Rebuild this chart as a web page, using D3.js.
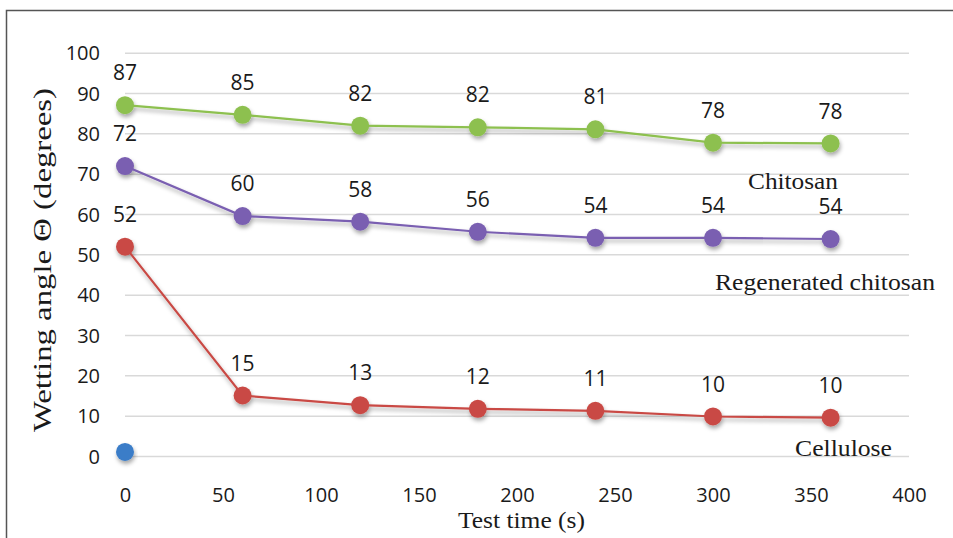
<!DOCTYPE html>
<html>
<head>
<meta charset="utf-8">
<script src="https://cdn.jsdelivr.net/npm/d3@7/dist/d3.min.js"></script>
<style>
  html, body { margin: 0; padding: 0; background: #fff; }
  svg { display: block; }
</style>
</head>
<body>
<svg id="chart" width="953" height="538"></svg>
<script>
// ---- data ----
const times = [0, 60, 120, 180, 240, 300, 360];
const chitosan = [87.0, 84.6, 81.9, 81.5, 81.0, 77.7, 77.5];
const chitosanLabels = [87, 85, 82, 82, 81, 78, 78];
const regenerated = [71.9, 59.5, 58.1, 55.6, 54.1, 54.1, 53.8];
const regeneratedLabels = [72, 60, 58, 56, 54, 54, 54];
const cellulose = [51.9, 15.0, 12.6, 11.7, 11.2, 9.8, 9.5];
const celluloseLabels = [52, 15, 13, 12, 11, 10, 10];
const blankPoint = [{t: 0, v: 1}];
const xTicks = [0, 50, 100, 150, 200, 250, 300, 350, 400];
const yTicks = [0, 10, 20, 30, 40, 50, 60, 70, 80, 90, 100];
const seriesNames = ["Chitosan", "Regenerated chitosan", "Cellulose"];

const svg = d3.select("#chart");
const x = d3.scaleLinear().domain([0, 400]).range([125, 909]);
const y = d3.scaleLinear().domain([0, 100]).range([456, 52.7]);

// drop shadow filter
const defs = svg.append("defs");
const f = defs.append("filter").attr("id", "shadow")
  .attr("x", "-20%").attr("y", "-20%").attr("width", "140%").attr("height", "160%");
f.append("feDropShadow").attr("dx", 1).attr("dy", 3).attr("stdDeviation", 2)
  .attr("flood-color", "#000").attr("flood-opacity", 0.35);

// outer frame
svg.append("rect").attr("x", 6.5).attr("y", 10.5).attr("width", 1000).attr("height", 600)
  .attr("fill", "none").attr("stroke", "#555").attr("stroke-width", 1.5);

// gridlines + y tick labels
const yAxis = d3.axisLeft(y).tickValues(yTicks).tickSize(-(909 - 125)).tickPadding(25);
const gy = svg.append("g").attr("transform", "translate(125,0)").call(yAxis);
gy.select(".domain").remove();
gy.selectAll(".tick line").attr("stroke", "#d9d9d9").attr("stroke-width", 1.5);
gy.selectAll(".tick text").attr("font-family", "'Open Sans', sans-serif").attr("font-size", 20)
  .attr("fill", "#1a1a1a").attr("x", -25).attr("dy", "0.35em");

const xAxis = d3.axisBottom(x).tickValues(xTicks).tickSize(0).tickPadding(0);
const gx = svg.append("g").attr("transform", "translate(0,495)").call(xAxis);
gx.select(".domain").remove();
gx.selectAll(".tick text").attr("font-family", "'Open Sans', sans-serif").attr("font-size", 20)
  .attr("fill", "#1a1a1a").attr("y", 0).attr("dy", "0.35em");

// series
const series = [
  {name: "Chitosan", values: chitosan, labels: chitosanLabels, color: "#8dc04f"},
  {name: "Regenerated chitosan", values: regenerated, labels: regeneratedLabels, color: "#7a5fb1"},
  {name: "Cellulose", values: cellulose, labels: celluloseLabels, color: "#c94a44"}
];

const line = d3.line().x(d => x(d.t)).y(d => y(d.v));

series.forEach(s => {
  const pts = times.map((t, i) => ({t, v: s.values[i], lab: s.labels[i]}));
  const g = svg.append("g").attr("filter", "url(#shadow)");
  g.append("path").datum(pts).attr("d", line).attr("fill", "none")
    .attr("stroke", s.color).attr("stroke-width", 2.2);
  g.selectAll("circle").data(pts).join("circle")
    .attr("cx", d => x(d.t)).attr("cy", d => y(d.v)).attr("r", 9)
    .attr("fill", s.color);
  svg.append("g").selectAll("text").data(pts).join("text")
    .attr("x", d => x(d.t)).attr("y", d => y(d.v) - 32.5)
    .attr("dy", "0.36em").attr("text-anchor", "middle")
    .attr("font-family", "'Open Sans', sans-serif").attr("font-size", 21).attr("fill", "#1a1a1a")
    .text(d => d.lab);
});

// blue point
svg.append("g").attr("filter", "url(#shadow)").selectAll("circle").data(blankPoint).join("circle")
  .attr("cx", d => x(d.t)).attr("cy", d => y(d.v)).attr("r", 9).attr("fill", "#3b7dc8");

// series name labels
const nameLabels = [
  {text: seriesNames[0], x: 748, y: 189, w: 90},
  {text: seriesNames[1], x: 715, y: 290, w: 220},
  {text: seriesNames[2], x: 795, y: 456, w: 97}
];
svg.append("g").selectAll("text").data(nameLabels).join("text")
  .attr("x", d => d.x).attr("y", d => d.y)
  .attr("font-family", "'Liberation Serif', 'Times New Roman', serif").attr("font-size", 23)
  .attr("fill", "#1a1a1a").attr("textLength", d => d.w).attr("lengthAdjust", "spacingAndGlyphs")
  .text(d => d.text);

// axis titles
svg.append("text").attr("x", 458).attr("y", 528)
  .attr("font-family", "'Liberation Serif', 'Times New Roman', serif").attr("font-size", 23)
  .attr("fill", "#1a1a1a").attr("textLength", 127).attr("lengthAdjust", "spacingAndGlyphs")
  .text("Test time (s)");

svg.append("text").attr("transform", "translate(51,432) rotate(-90)")
  .attr("font-family", "'Liberation Serif', 'Times New Roman', serif").attr("font-size", 26)
  .attr("fill", "#1a1a1a").attr("textLength", 344).attr("lengthAdjust", "spacingAndGlyphs")
  .text("Wetting angle Θ (degrees)");
</script>
</body>
</html>
